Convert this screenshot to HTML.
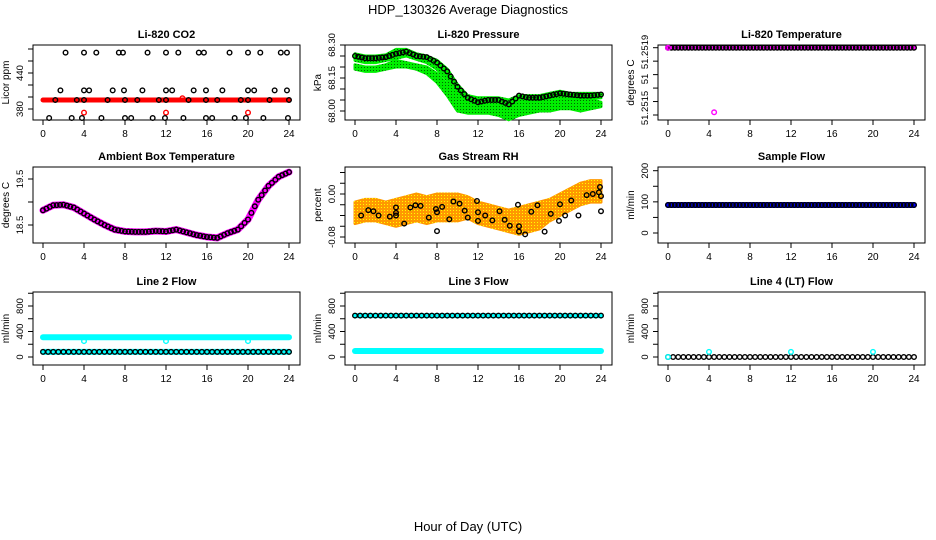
<!DOCTYPE html>
<html><head><meta charset="utf-8"><style>
body{margin:0;background:#fff}
svg{display:block;font-family:"Liberation Sans",Arial,sans-serif}
</style></head><body>
<svg id="c" width="936" height="540" viewBox="0 0 936 540">
<defs>
<pattern id="speck" width="3" height="3" patternUnits="userSpaceOnUse"><rect width="3" height="3" fill="#ff9900"/><rect width="1" height="1" fill="#ffff00"/></pattern>
<pattern id="gspeck" width="3" height="3" patternUnits="userSpaceOnUse"><rect width="3" height="3" fill="#00ee00"/><rect x="1" y="1" width="1" height="1" fill="#006600"/></pattern>
</defs>
<text x="468" y="14" text-anchor="middle" font-size="13">HDP_130326  Average Diagnostics</text>
<text x="468" y="531" text-anchor="middle" font-size="13">Hour of Day (UTC)</text>
</svg>
<script>
// shared x categories
const hours = [0,1,2,3,4,5,6,7,8,9,10,11,12,13,14,15,16,17,18,19,20,21,22,23,24];
const xTicks = [0,4,8,12,16,20,24];
// CO2
const co2Red = [395,395,395,395,395,395,395,395,395,395,395,395,395,395,395,395,395,395,395,395,395,395,395,395,395];
const co2BlackHighX = [2.2,4,5.2,7.4,7.8,10.2,12,13.2,15.2,15.7,18.2,20,21.2,23.2,23.8];
const co2BlackMidX = [1.7,4,4.5,6.8,7.9,9.7,12,12.6,14.7,15.9,17.5,20,20.6,22.6,23.8];
const co2BlackLowX = [0.6,2.8,3.8,5.7,8,8.6,10.7,11.9,13.7,15.9,16.5,18.7,19.8,21.5,23.9];
const co2BlackBandX = [1.2,3.3,4,6.3,8,9.2,11.3,12,14.2,15.9,17,19.3,20,22.1,24];
const co2High = 474, co2Mid = 411, co2Low = 365, co2Band = 395;
const co2RedOutX = [4,12,13.6,20];
const co2RedOutY = [374,374,398,374];
// Pressure
const presBlack = [68.25,68.24,68.24,68.245,68.26,68.27,68.25,68.245,68.22,68.18,68.11,68.06,68.04,68.05,68.05,68.03,68.07,68.06,68.06,68.07,68.08,68.075,68.07,68.07,68.075];
const presGreenUpHi = [68.26,68.25,68.25,68.255,68.28,68.28,68.26,68.25,68.23,68.19,68.12,68.07,68.06,68.06,68.06,68.05,68.07,68.07,68.07,68.08,68.09,68.08,68.08,68.08,68.08];
const presGreenUpLo = [68.23,68.22,68.22,68.23,68.24,68.25,68.235,68.22,68.19,68.14,68.06,68.03,68.02,68.03,68.03,68.0,68.04,68.04,68.045,68.05,68.06,68.055,68.055,68.055,68.06];
const presGreenLoHi = [68.21,68.20,68.20,68.21,68.23,68.22,68.21,68.20,68.17,68.12,68.05,68.03,68.03,68.03,68.03,68.02,68.03,68.035,68.04,68.045,68.05,68.05,68.05,68.05,68.04];
const presGreenLoLo = [68.19,68.18,68.18,68.19,68.20,68.20,68.19,68.17,68.13,68.07,68.0,67.99,67.99,67.99,67.98,67.96,67.98,67.99,68.0,68.0,68.01,68.01,68.0,68.01,68.02];
// Li-820 temperature
const tempVals = [51.2519,51.2519,51.2519,51.2519,51.2519,51.2519,51.2519,51.2519,51.2519,51.2519,51.2519,51.2519,51.2519,51.2519,51.2519,51.2519,51.2519,51.2519,51.2519,51.2519,51.2519,51.2519,51.2519,51.2519,51.2519];
const tempOutX = [4.5], tempOutY = [51.25142];
// Ambient box temperature
const ambVals = [18.82,18.93,18.94,18.88,18.75,18.62,18.5,18.4,18.36,18.35,18.35,18.37,18.36,18.4,18.34,18.28,18.24,18.22,18.32,18.4,18.62,19.05,19.35,19.55,19.65];
// Gas stream RH
const rhMid = [-0.035,-0.03,-0.03,-0.035,-0.035,-0.03,-0.025,-0.03,-0.025,-0.025,-0.025,-0.025,-0.035,-0.04,-0.045,-0.05,-0.05,-0.045,-0.04,-0.03,-0.02,-0.01,0.0,0.005,0.005];
const rhHalf = [0.02,0.02,0.02,0.02,0.025,0.025,0.025,0.025,0.025,0.025,0.025,0.02,0.02,0.02,0.02,0.02,0.025,0.025,0.025,0.02,0.02,0.02,0.02,0.02,0.02];
const rhBlackX = [0.6,1.3,1.8,2.3,3.4,4,4,4,4.8,5.4,5.9,6.4,7.2,7.9,8,8,8.5,9.2,9.6,10.2,10.7,11,11.9,12,12,12.7,13.4,14.1,14.6,15.1,15.9,16,16,16.6,17.2,17.8,18.5,19.1,19.9,20,20.5,21.1,21.8,22.6,23.2,23.8,23.9,24,24];
const rhBlackY = [-0.04,-0.03,-0.032,-0.04,-0.042,-0.025,-0.035,-0.04,-0.055,-0.025,-0.021,-0.022,-0.044,-0.028,-0.034,-0.069,-0.024,-0.047,-0.014,-0.018,-0.031,-0.044,-0.013,-0.034,-0.05,-0.04,-0.049,-0.032,-0.048,-0.059,-0.02,-0.06,-0.07,-0.075,-0.033,-0.021,-0.07,-0.037,-0.05,-0.019,-0.04,-0.012,-0.04,-0.002,0.0,0.003,0.013,-0.004,-0.032];
// Sample flow
const sampleVals = [90,90,90,90,90,90,90,90,90,90,90,90,90,90,90,90,90,90,90,90,90,90,90,90,90];
// Line 2 flow
const l2Cyan = [310,310,310,310,310,310,310,310,310,310,310,310,310,310,310,310,310,310,310,310,310,310,310,310,310];
const l2Black = [80,80,80,80,80,80,80,80,80,80,80,80,80,80,80,80,80,80,80,80,80,80,80,80,80];
const l2OutX = [4,12,20], l2OutY = [250,250,250];
// Line 3 flow
const l3Black = [650,650,650,650,650,650,650,650,650,650,650,650,650,650,650,650,650,650,650,650,650,650,650,650,650];
const l3Cyan = [95,95,95,95,95,95,95,95,95,95,95,95,95,95,95,95,95,95,95,95,95,95,95,95,95];
// Line 4 flow
const l4Black = [0,0,0,0,0,0,0,0,0,0,0,0,0,0,0,0,0,0,0,0,0,0,0,0,0];
const l4OutX = [0,4,12,20], l4OutY = [0,80,80,80];

const NS='http://www.w3.org/2000/svg';
const svg=document.getElementById('c');
function el(tag,attrs,parent){const e=document.createElementNS(NS,tag);for(const k in attrs)e.setAttribute(k,attrs[k]);(parent||svg).appendChild(e);return e;}

const cols=[33,345,658], rows=[[45,120],[167,243],[292,365]];
function makePanel(ci,ri,title,ylab,v0,p0,v1,p1,ticks,labels,name){
  const L=cols[ci],R=L+267,T=rows[ri][0],B=rows[ri][1];
  const g=el('g',{});
  
  
  const X=h=>L+10+h*(246/24);
  const Y=v=>p0+(v-v0)*(p1-p0)/(v1-v0);
  const t=el('text',{x:(L+R)/2,y:T-7,'text-anchor':'middle','font-size':'11','font-weight':'bold'},g);
  t.textContent=title;
  
  
  el('rect',{x:L,y:T,width:R-L,height:B-T,fill:'none',stroke:'#000','stroke-width':1},g);
  xTicks.forEach(h=>{
    el('line',{x1:X(h),x2:X(h),y1:B,y2:B+5,stroke:'#000'},g);
    const tx=el('text',{x:X(h),y:B+17,'text-anchor':'middle','font-size':'10'},g);
    tx.textContent=h;
    
    
  });
  ticks.forEach(v=>el('line',{x1:L-5,x2:L,y1:Y(v),y2:Y(v),stroke:'#000'},g));
  labels.forEach(([v,s,py])=>{
    const yy=py!==undefined?py:Y(v);
    const tx=el('text',{x:L-10,y:yy,'text-anchor':'middle','font-size':'9.5',transform:`rotate(-90 ${L-10} ${yy})`},g);
    tx.textContent=s;
    
    
  });
  const yl=el('text',{x:L-24,y:(T+B)/2,'text-anchor':'middle','font-size':'10',transform:`rotate(-90 ${L-24} ${(T+B)/2})`},g);
  yl.textContent=ylab;
  
  
  const data=el('g',{},g);
  return {X,Y,g:data};
}
function circ(p,h,v,col,r){
  const c=el('circle',{cx:p.X(h),cy:p.Y(v),r:r||2.3,fill:'none',stroke:col,'stroke-width':1.4},p.g);
  
  
}
function band(p,lo,hi,fill){
  let d='M'+hours.map((h,i)=>p.X(h)+','+p.Y(hi[i])).join('L')+'L'+hours.slice().reverse().map((h,j)=>{const i=hours.length-1-j;return p.X(h)+','+p.Y(lo[i]);}).join('L')+'Z';
  const e=el('path',{d,fill,stroke:fill,'stroke-width':3,'stroke-linejoin':'round'},p.g);
  
  
}
function series(p,vals,col,step,r){
  for(let i=0;i<vals.length-1;i++){
    for(let k=0;k<step;k++){
      const f=k/step;
      circ(p,hours[i]+f,vals[i]+(vals[i+1]-vals[i])*f,col,r);
    }
  }
  circ(p,hours[hours.length-1],vals[vals.length-1],col,r);
}
function bar(p,vals,col,w){
  const pts=hours.map((h,i)=>p.X(h)+','+p.Y(vals[i])).join(' ');
  const e=el('polyline',{points:pts,fill:'none',stroke:col,'stroke-width':w,'stroke-linecap':'round'},p.g);
  
  
}

// CO2
let p=makePanel(0,0,'Li-820 CO2','Licor ppm',380,109,440,73,[380,400,420,440,460,480],[[380,'380'],[440,'440']],'co2');
bar(p,co2Red,'#ff0000',5);
co2RedOutX.forEach((h,i)=>circ(p,h,co2RedOutY[i],'#ff0000'));
co2BlackHighX.forEach(h=>circ(p,h,co2High,'#000'));
co2BlackMidX.forEach(h=>circ(p,h,co2Mid,'#000'));
co2BlackLowX.forEach(h=>circ(p,h,co2Low,'#000'));
co2BlackBandX.forEach(h=>circ(p,h,co2Band,'#000'));

// Pressure
p=makePanel(1,0,'Li-820 Pressure','kPa',68.0,111,68.3,45,[68.0,68.05,68.1,68.15,68.2,68.25,68.3],[[68.0,'68.00'],[68.15,'68.15'],[68.3,'68.30']],'pressure');
band(p,presGreenLoLo,presGreenLoHi,'url(#gspeck)');
band(p,presGreenUpLo,presGreenUpHi,'url(#gspeck)');
series(p,presBlack,'#000',3);

// Temperature
p=makePanel(2,0,'Li-820 Temperature','degrees C',51.2519,47.7,51.2514,115,[51.2519,51.2518,51.2517,51.2516,51.2515,51.2514],[[0,'51.2519',52],[0,'51',79],[0,'51.2515',108]],'li820-temperature');
bar(p,tempVals,'#ff00ff',4);
series(p,tempVals,'#000',3);
circ(p,0,51.2519,'#ff00ff');
tempOutX.forEach((h,i)=>circ(p,h,tempOutY[i],'#ff00ff'));

// Ambient
p=makePanel(0,1,'Ambient Box Temperature','degrees C',18.5,225,19.5,179,[18.5,19.0,19.5],[[18.5,'18.5'],[19.5,'19.5']],'ambient-temperature');
bar(p,ambVals,'#ff00ff',7);
series(p,ambVals,'#000',3);

// RH
p=makePanel(1,1,'Gas Stream RH','percent',0,194,-0.08,237,[-0.08,-0.06,-0.04,-0.02,0,0.02,0.04],[[0,'0.00'],[-0.08,'-0.08']],'gas-stream-rh');
band(p,rhMid.map((m,i)=>m-rhHalf[i]),rhMid.map((m,i)=>m+rhHalf[i]),'url(#speck)');
rhBlackX.forEach((h,i)=>circ(p,h,rhBlackY[i],'#000'));

// Sample flow
p=makePanel(2,1,'Sample Flow','ml/min',0,233,200,170.7,[0,50,100,150,200],[[0,'0'],[100,'100'],[200,'200']],'sample-flow');
bar(p,sampleVals,'#0000ff',6);
series(p,sampleVals,'#000',3);

// Line 2
const flowTicks=[0,200,400,600,800,1000], flowLabels=[[0,'0'],[400,'400'],[800,'800']];
p=makePanel(0,2,'Line 2 Flow','ml/min',0,357,800,306,flowTicks,flowLabels,'line2-flow');
bar(p,l2Cyan,'#00ffff',6);
bar(p,l2Black,'#00ffff',6);
series(p,l2Black,'#000',2);
l2OutX.forEach((h,i)=>circ(p,h,l2OutY[i],'#00ffff'));

// Line 3
p=makePanel(1,2,'Line 3 Flow','ml/min',0,357,800,306,flowTicks,flowLabels,'line3-flow');
bar(p,l3Cyan,'#00ffff',6);
bar(p,l3Black,'#00ffff',5);
series(p,l3Black,'#000',2);

// Line 4
p=makePanel(2,2,'Line 4 (LT) Flow','ml/min',0,357,800,306,flowTicks,flowLabels,'line4-flow');
series(p,l4Black,'#000',2);
l4OutX.forEach((h,i)=>circ(p,h,l4OutY[i],'#00ffff'));
</script>
</body></html>
